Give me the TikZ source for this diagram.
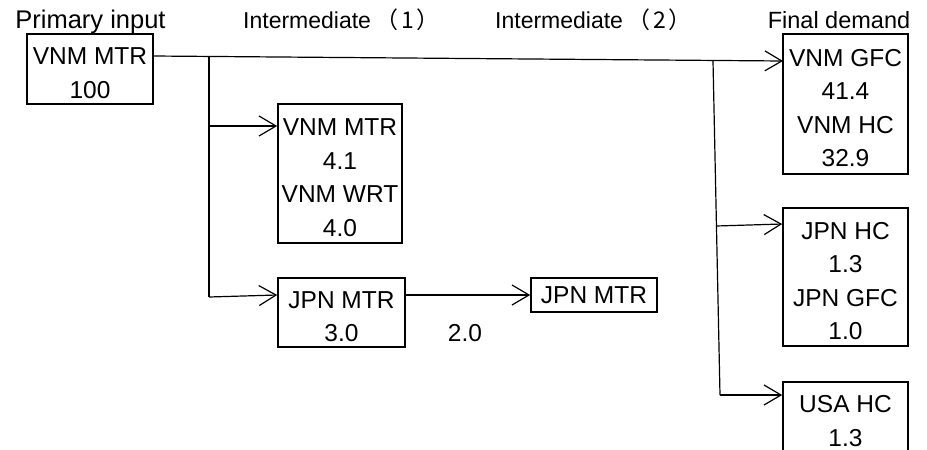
\documentclass[tikz,border=0pt]{standalone}
\usepackage{fontspec}
\setmainfont{Liberation Sans}
\newfontfamily\cjk{Noto Sans CJK JP}
\usetikzlibrary{arrows.meta}
\newcommand{\myfirstln}{\rule{0pt}{25pt}}
\begin{document}
\begin{tikzpicture}[x=1pt,y=-1pt,
  box/.style={draw,line width=1.6pt,inner sep=0pt,align=center,font=\fontsize{24.5}{33.5}\selectfont},
  lbl/.style={inner sep=0pt,anchor=base,font=\fontsize{23}{28}\selectfont},
  conn/.style={line width=1.2pt},
  arr/.style={conn,-{Straight Barb[length=17pt,width=20pt,line width=1.2pt]}}]
\useasboundingbox (0,0) rectangle (927,450);
% headers
\node[lbl,font=\fontsize{25.5}{28}\selectfont] (h0) at (90.5,28) {Primary input};
\node[lbl] (h1) at (341.5,28) {Intermediate\hspace{4pt}{\cjk（\hspace{3pt}1\hspace{3pt}）}};
\node[lbl] (h2) at (593.5,28) {Intermediate\hspace{4pt}{\cjk（\hspace{3pt}2\hspace{3pt}）}};
\node[lbl,font=\fontsize{23.5}{28}\selectfont] (h3) at (839,28) {Final demand};
% boxes
\node[box,minimum width=126pt,minimum height=70pt] (p) at (90,69) {\myfirstln VNM MTR\\100};
\node[box,minimum width=124pt,minimum height=139pt] (m1) at (340,173.5) {\myfirstln VNM MTR\\4.1\\VNM WRT\\4.0};
\node[box,minimum width=127pt,minimum height=69pt] (j1) at (341.5,312.5) {\myfirstln JPN MTR\\3.0};
\node[box,minimum width=126pt,minimum height=34pt] (j2) at (594,295) {JPN MTR};
\node[box,minimum width=125pt,minimum height=140pt] (f1) at (845.5,104) {\myfirstln VNM GFC\\41.4\\VNM HC\\32.9};
\node[box,minimum width=125pt,minimum height=138pt] (f2) at (845.5,277) {\myfirstln JPN HC\\1.3\\JPN GFC\\1.0};
\node[box,minimum width=125pt,minimum height=70pt] (f3) at (845.5,417) {\myfirstln USA HC\\1.3};
\node[lbl,font=\fontsize{24.5}{28}\selectfont] (v20) at (465,341) {2.0};
% connector points
\coordinate (s0) at (153,56);
\coordinate (e0) at (783,61);
\coordinate (v1a) at (209,56);
\coordinate (v1m) at (209,126);
\coordinate (v1b) at (209,297);
\coordinate (jy) at (0,295);
\coordinate (v2a) at (713,61);
\coordinate (v2m) at (716,226);
\coordinate (v2b) at (720,395);
\coordinate (f2y) at (0,224);
% connectors
\draw[arr] (s0) -- (e0);
\draw[conn] (v1a) -- (v1b);
\draw[arr] (v1m) -- (m1.west |- v1m);
\draw[arr] (v1b) -- (j1.west |- jy);
\draw[arr] (j1.east |- jy) -- (j2.west);
\draw[conn] (v2a) -- (v2b);
\draw[arr] (v2m) -- (f2.west |- f2y);
\draw[arr] (v2b) -- (f3.west |- v2b);
\end{tikzpicture}
\end{document}
